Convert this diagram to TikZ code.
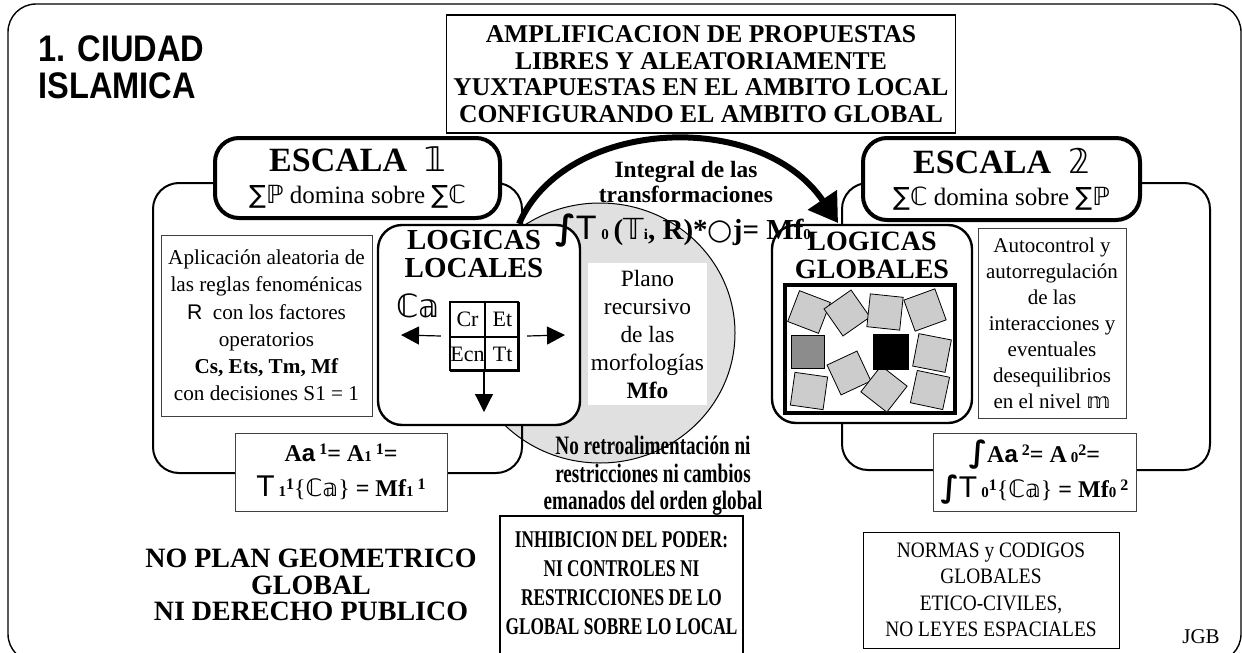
\documentclass[tikz,border=0pt]{standalone}
\usepackage{fontspec}
\setmainfont{Liberation Serif}
\newfontfamily\titlefont[FakeStretch=0.88]{Liberation Sans}
\newfontfamily\sansf{Liberation Sans}
\newfontfamily\dsf{DejaVu Sans}
\newfontfamily\narrowf[FakeStretch=0.72]{Liberation Serif}
\newfontfamily\normf[FakeStretch=0.88]{Liberation Serif}
\usetikzlibrary{arrows.meta,positioning,shapes.geometric}
\newcommand{\fs}[2]{\fontsize{#1}{#2}\selectfont}
\newcommand{\ds}[1]{{\dsf\mdseries #1}}
\newcommand{\hi}[1]{\raisebox{0.6ex}{\fs{8}{8}\bfseries #1}}
\newcommand{\lo}[1]{{\fs{7.5}{8}\bfseries #1}}

\begin{document}
\begin{tikzpicture}
[x=0.5pt,y=-0.5pt,
 escala/.style ={draw, line width=2pt, rounded corners=12pt, fill=white, align=center, inner sep=0pt},
 logica/.style ={draw, line width=1.2pt, rounded corners=12pt, fill=white, inner sep=0pt},
 marco/.style ={draw, line width=1pt, rounded corners=13pt, inner sep=0pt},
 caja/.style ={draw=black!75, line width=0.5pt, fill=white, align=center, inner sep=0pt},
 celda/.style ={draw, line width=0.5pt, minimum size=17pt, inner sep=0pt, font=\fs{11}{11}},
 bloque/.style ={draw, line width=0.4pt, fill=gray!40, minimum size=16.5pt, inner sep=0pt},
 flecha/.style ={line width=0.6pt, -{Triangle[length=9pt,width=9pt]}},
 arco/.style ={line width=3pt, -{Triangle[length=14pt,width=17pt]}}]
\useasboundingbox (0,0) rectangle (1242,653);
% marco general y fondo
\node[draw, line width=0.7pt, rounded corners=14pt, minimum width=616.5pt, minimum height=329pt, inner sep=0pt] (hoja) at (624.5,333) {};
\node[draw, ellipse, line width=0.5pt, fill=black!12, minimum width=135pt, minimum height=130pt, inner sep=0pt] (circulo) at (600,333) {};
\node[marco, minimum width=184.5pt, minimum height=145pt] (marcoL) at (337.5,328) {};
\node[marco, minimum width=184pt, minimum height=143.5pt] (marcoR) at (1026,326.5) {};
% titulo
\node[anchor=west, align=left, inner sep=0pt, font=\titlefont\bfseries\fs{18.5}{18.5}] (titulo) at (38,67) {1. CIUDAD\\ISLAMICA};
\node[draw, line width=0.6pt, fill=white, minimum width=254pt, minimum height=59pt, align=center, font=\bfseries\fs{12.8}{13.3}] (amplia) at (701,74)
 {AMPLIFICACION DE PROPUESTAS\\LIBRES Y ALEATORIAMENTE\\YUXTAPUESTAS EN EL AMBITO LOCAL\\CONFIGURANDO EL AMBITO GLOBAL};
% flecha integral
\coordinate (arcoB) at (838,223);
\node[logica, minimum width=101pt, minimum height=100pt] (logL) at (479,325) {};
\node[logica, minimum width=100pt, minimum height=99pt] (logG) at (872,324) {};
\draw[arco] ([xshift=20pt]logL.north) .. controls (565,118) and (760,108) .. (arcoB);
% escalas
\node[escala, minimum width=142.5pt, minimum height=40pt] (esc1) at (357.5,178)
 {{\bfseries\fs{17}{17}ESCALA\ \ \ds{𝟙}}\\[4pt]{\fs{12.5}{14}\ds{∑ℙ} domina sobre \ds{∑ℂ}}};
\node[escala, minimum width=138.5pt, minimum height=41pt] (esc2) at (1001.5,179)
 {{\bfseries\fs{17}{17}ESCALA\ \ \ds{𝟚}}\\[4pt]{\fs{12.5}{14}\ds{∑ℂ} domina sobre \ds{∑ℙ}}};
% logicas locales
\node[caja, minimum width=105.5pt, minimum height=90.5pt, font=\fs{10.6}{13.6}] (reglas) at (266.5,325.5)
 {Aplicación aleatoria de\\las reglas fenoménicas\\{\sansf R}\ \ con los factores\\operatorios\\\textbf{Cs, Ets, Tm, Mf}\\con decisiones S1 = 1};
\node[font=\bfseries\fs{14.5}{14}, align=center, inner sep=0pt] (titL) at (474,254) {LOGICAS\\LOCALES};
\node[font=\fs{16}{16}, inner sep=0pt] (ca) at (418,306) {\ds{ℂ𝕒}};
\node[celda] (cr) at (467.5,319.5) {Cr};
\node[celda, right=0pt of cr] (et) {Et};
\node[celda, below=0pt of cr] (ecn) {Ecn};
\node[celda, right=0pt of ecn] (tt) {Tt};
\node[draw, line width=1.2pt, minimum size=34pt, inner sep=0pt] (rejilla) at (484,336) {};
\coordinate (flI) at (401,335);
\coordinate (flD) at (565,335);
\coordinate (flB) at (484,412);
\draw[flecha] ([xshift=-4pt]rejilla.west) -- (flI);
\draw[flecha] ([xshift=4pt]rejilla.east) -- (flD);
\draw[flecha] (rejilla.south) -- (flB);
% plano recursivo
\node[fill=white, minimum width=59.5pt, minimum height=71pt, align=center, inner sep=0pt, font=\fs{11.7}{14}] (plano) at (647.5,334)
 {Plano\\recursivo\\de las\\morfologías\\\textbf{Mfo}};
\node[font=\bfseries\fs{11.7}{12.5}, align=center, inner sep=0pt] (integral) at (686,182) {Integral de las\\transformaciones};
\node[font=\bfseries\fs{14.5}{16}, inner sep=0pt] (formula) at (683,231)
 {{\dsf\fs{17}{17}∫}{\sansf\mdseries\fs{17}{17}T}\,\lo{0}\,(\ds{𝕋}\lo{i}, R)*\ds{○}j= Mf\lo{0}};
% logicas globales
\node[font=\bfseries\fs{14}{14}, align=center, inner sep=0pt] (titG) at (872,255) {LOGICAS\\GLOBALES};
\node[draw, line width=2pt, fill=white, minimum width=85pt, minimum height=64pt, inner sep=0pt] (campo) at (870,349) {};
\foreach \px/\py/\ang [count=\i] in {809/312/-21, 847/313/35, 885/312/-6, 925/310/20, 932/353/-11,
  849/373/25, 809/391/-8, 884/389/52, 930/390/-12}
  \node[bloque, rotate=\ang] (pieza\i) at (\px,\py) {};
\node[bloque, fill=black!45] (piezaG) at (808,352) {};
\node[bloque, fill=black, minimum size=17.5pt] (piezaN) at (891,352) {};
\node[caja, minimum width=74pt, minimum height=95pt, font=\fs{10.5}{13}] (auto) at (1052,323)
 {Autocontrol y\\autorregulación\\de las\\interacciones y\\eventuales\\desequilibrios\\en el nivel \ds{𝕞}};
% formulas
\node[caja, minimum width=106pt, minimum height=39pt, font=\bfseries\fs{12}{17.5}] (formL) at (341,472)
 {A{\sansf a}\,\hi{1}= A\lo{1}\,\hi{1}=\\{\sansf\mdseries\fs{15}{15}T}\,\lo{1}\hi{1}{\mdseries\{\ds{ℂ𝕒}\}} = Mf\lo{1}\,\hi{1}};
\node[caja, minimum width=101.5pt, minimum height=39pt, font=\bfseries\fs{12}{17.5}] (formR) at (1034.5,472)
 {{\dsf\fs{15}{15}∫}A{\sansf a}\,\hi{2}= A\,\lo{0}\hi{2}=\\{\dsf\fs{15}{15}∫}{\sansf\mdseries\fs{15}{15}T}\,\lo{0}\hi{1}{\mdseries\{\ds{ℂ𝕒}\}} = Mf\lo{0}\,\hi{2}};
% textos inferiores
\node[font=\narrowf\bfseries\fs{13.3}{13.75}, align=center, inner sep=0pt] (noretro) at (653,476)
 {No retroalimentación ni\\restricciones ni cambios\\emanados del orden global};
\node[font=\bfseries\fs{14}{13.25}, align=center, inner sep=0pt] (noplan) at (311,585)
 {NO PLAN GEOMETRICO\\GLOBAL\\NI DERECHO PUBLICO};
\node[draw, line width=0.6pt, fill=white, minimum width=121.5pt, minimum height=70pt, inner sep=0pt] (inhibe) at (621.5,586) {};
\node[font=\narrowf\bfseries\fs{12}{14.5}, align=center, inner sep=0pt] (inhibeT) at (621.5,583)
 {INHIBICION DEL PODER:\\NI CONTROLES NI\\RESTRICCIONES DE LO\\GLOBAL SOBRE LO LOCAL};
\node[caja, draw=black, minimum width=128pt, minimum height=58pt, font=\normf\fs{11}{13.25}] (normas) at (991,590)
 {NORMAS y CODIGOS\\GLOBALES\\ETICO-CIVILES,\\NO LEYES ESPACIALES};
\node[font=\fs{10.5}{11}, inner sep=0pt] (firma) at (1201,637) {JGB};
\end{tikzpicture}
\end{document}
